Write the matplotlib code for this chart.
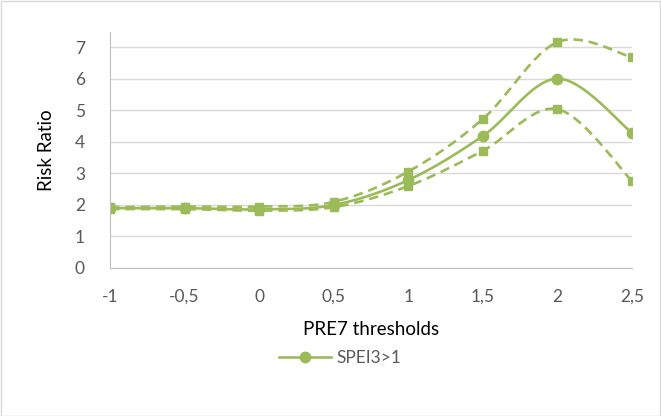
import numpy as np
import matplotlib
matplotlib.use("Agg")
import matplotlib.pyplot as plt
from matplotlib.patches import Rectangle

plt.rcParams['font.family'] = ['Lato', 'DejaVu Sans']

thresholds = ["-1", "-0,5", "0", "0,5", "1", "1,5", "2", "2,5"]
rr = [1.90, 1.90, 1.86, 2.00, 2.79, 4.19, 6.01, 4.29]
rr_upper = [1.93, 1.95, 1.95, 2.10, 3.06, 4.73, 7.17, 6.69]
rr_lower = [1.87, 1.87, 1.82, 1.93, 2.60, 3.72, 5.04, 2.76]

green = "#9BBB59"
grey_txt = "#595959"


def smooth(y, n=30):
    # catmull-rom style smoothing, like excel's "smoothed line"
    y = np.asarray(y, float)
    x = np.arange(len(y), dtype=float)
    xs, ys = [], []
    for i in range(len(y) - 1):
        p0 = np.array([x[max(i - 1, 0)], y[max(i - 1, 0)]])
        p1 = np.array([x[i], y[i]])
        p2 = np.array([x[i + 1], y[i + 1]])
        p3 = np.array([x[min(i + 2, len(y) - 1)], y[min(i + 2, len(y) - 1)]])
        c1 = p1 + (p2 - p0) / 6
        c2 = p2 - (p3 - p1) / 6
        t = np.linspace(0, 1, n)[:, None]
        pts = (1 - t) ** 3 * p1 + 3 * (1 - t) ** 2 * t * c1 + 3 * (1 - t) * t ** 2 * c2 + t ** 3 * p2
        xs.extend(pts[:, 0])
        ys.extend(pts[:, 1])
    return np.array(xs), np.array(ys)


fig = plt.figure(figsize=(6.61, 4.16), dpi=100)
ax = fig.add_axes([0.1664, 0.3558, 0.7898, 0.568])

pos = np.arange(len(thresholds))
for vals, ls, mk, ms in [(rr_upper, "--", "s", 6), (rr_lower, "--", "s", 6), (rr, "-", "o", 7.5)]:
    sx, sy = smooth(vals)
    if ls == "--":
        ax.plot(sx, sy, color=green, lw=1.9, ls=ls, dashes=(3.6, 2.2))
    else:
        ax.plot(sx, sy, color=green, lw=1.9)
    ax.plot(pos, vals, color=green, ls="none", marker=mk, ms=ms)

ax.set_xlim(0, len(thresholds) - 1)
ax.set_ylim(0, 7.5)
ax.set_yticks(range(8))
ax.set_xticks(pos)
ax.set_xticklabels(thresholds)
ax.grid(axis="y", color="#D9D9D9", lw=1)
ax.set_axisbelow(True)
for s in ["top", "right"]:
    ax.spines[s].set_visible(False)
ax.spines["left"].set_color("#BFBFBF")
ax.spines["bottom"].set_color("#BFBFBF")
ax.tick_params(length=0, labelsize=12.5, colors=grey_txt)
ax.tick_params(axis="x", pad=15)
ax.tick_params(axis="y", pad=18)
ax.set_xlabel("PRE7 thresholds", fontsize=13.5, labelpad=12)
ax.set_ylabel("Risk Ratio", fontsize=13.5, labelpad=14)

h, = ax.plot([], [], color=green, lw=1.9, marker="o", ms=7.5)
fig.legend([h], ["SPEI3>1"], loc="center", bbox_to_anchor=(0.515, 0.14), frameon=False,
           fontsize=12.5, labelcolor=grey_txt, handlelength=3.0, handletextpad=0.3)

fig.add_artist(Rectangle((0.001, 0.001), 0.997, 0.996, transform=fig.transFigure,
                         fill=False, edgecolor="#D9D9D9", lw=1))

fig.savefig("out.png", dpi=100)
